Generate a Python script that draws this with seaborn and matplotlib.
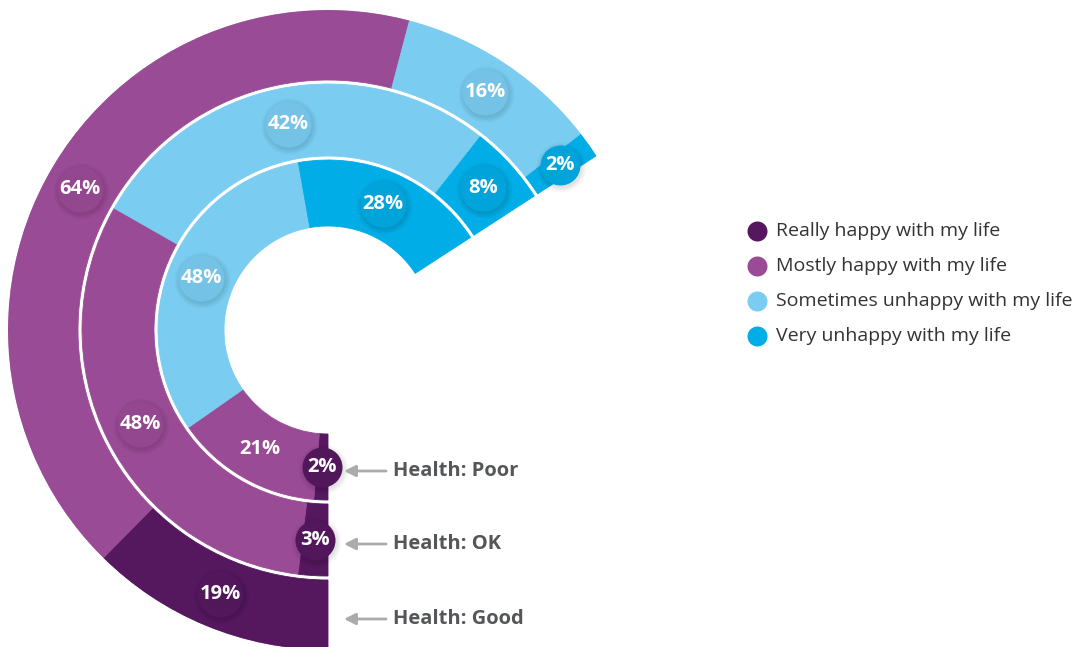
import numpy as np
import matplotlib
matplotlib.use("Agg")
import matplotlib.pyplot as plt
from matplotlib import transforms
import seaborn as sns

# ---- data -------------------------------------------------------------
categories = [
    "Really happy with my life",
    "Mostly happy with my life",
    "Sometimes unhappy with my life",
    "Very unhappy with my life",
]
health_groups = ["Health: Good", "Health: OK", "Health: Poor"]
good_health = [19, 64, 16, 2]
ok_health = [3, 48, 42, 8]
poor_health = [2, 21, 48, 28]

# ---- style ------------------------------------------------------------
sns.set_theme(style="white")
plt.rcParams["font.family"] = ["Open Sans", "DejaVu Sans"]
palette = sns.color_palette(["#55185F", "#9A4B95", "#7ACCF1", "#00ADE6"])

W, H = 1080, 647
fig = plt.figure(figsize=(W / 100, H / 100), dpi=100)
fig.patch.set_facecolor("white")

# ring centre and outer radius, in pixels
cx, cy, R = 328, 330, 320
ax = fig.add_axes([(cx - R) / W, (H - cy - R) / H, 2 * R / W, 2 * R / H],
                  projection="polar")
ax.set_theta_zero_location("S")
ax.set_theta_direction(-1)
ax.set_ylim(0, R)
ax.set_axis_off()

SWEEP = np.deg2rad(237)
ring_bounds = {"Health: Good": (250, 320),
               "Health: OK": (174, 246),
               "Health: Poor": (104, 170)}
ring_values = {"Health: Good": good_health,
               "Health: OK": ok_health,
               "Health: Poor": poor_health}
# labels drawn without a badge (crowded next to a neighbouring badge)
plain_labels = {("Health: Poor", 1)}

shadow_tf = transforms.offset_copy(ax.transData, fig=fig, x=1.0, y=-2.0, units="dots")


def px_to_s(diam_px):
    pts = diam_px * 72 / 100
    return pts ** 2


for group in health_groups:
    vals = np.array(ring_values[group], dtype=float)
    r_in, r_out = ring_bounds[group]
    total = vals.sum()
    starts = (np.cumsum(vals) - vals) / total * SWEEP
    widths = vals / total * SWEEP
    ax.bar(starts, r_out - r_in, width=widths, bottom=r_in, align="edge",
           color=palette, edgecolor=palette, linewidth=0.6, zorder=2)

    r_mid = (r_in + r_out) / 2
    for i, (st, wd, v) in enumerate(zip(starts, widths, ring_values[group])):
        th = st + wd / 2
        if (group, i) not in plain_labels:
            rad = 20 if v < 5 else 23
            for k in range(6):
                ax.scatter([th], [r_mid], s=px_to_s(2 * (rad + k * 1.0)),
                           color="black", alpha=0.018, linewidths=0,
                           transform=shadow_tf, zorder=3)
            badge = np.clip(np.array(palette[i]) * 0.95, 0, 1)
            ax.scatter([th], [r_mid], s=px_to_s(2 * rad), color=badge,
                       linewidths=0, zorder=4)
        ax.text(th, r_mid, f"{v}%", ha="center", va="center", color="white",
                fontsize=14.5, fontweight="bold", zorder=5)

# ---- overlay: group pointers and legend --------------------------------
ov = fig.add_axes([0, 0, 1, 1], zorder=5)
ov.set_xlim(0, W)
ov.set_ylim(H, 0)
ov.patch.set_alpha(0)
ov.set_axis_off()

for group in health_groups:
    r_in, r_out = ring_bounds[group]
    y = cy + (r_in + r_out) / 2 + 4
    ov.annotate("", xy=(cx + 16, y), xytext=(cx + 58, y),
                arrowprops=dict(arrowstyle="-|>", color="#ABABAB", lw=2.0,
                                mutation_scale=17, shrinkA=0, shrinkB=0))
    ov.text(cx + 65, y, group, ha="left", va="center", fontsize=14.5,
            fontweight="bold", color="#55565A")

for i, cat in enumerate(categories):
    y = 231 + 35 * i
    ov.scatter([757], [y], s=px_to_s(20), color=palette[i], linewidths=0)
    ov.text(776, y, cat, ha="left", va="center", fontsize=14, color="#333333")

fig.savefig("out.png", dpi=100, facecolor="white")
